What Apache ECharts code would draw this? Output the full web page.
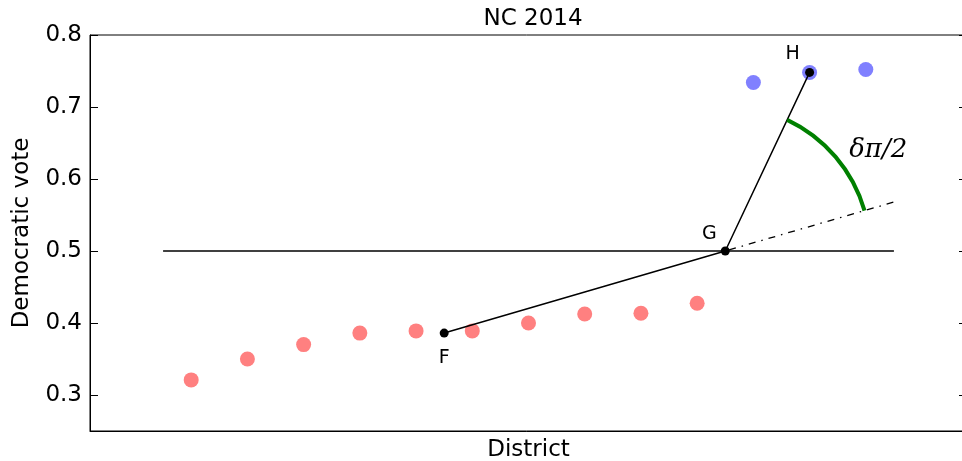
<!DOCTYPE html>
<html>
<head>
<meta charset="utf-8">
<script src="https://cdn.jsdelivr.net/npm/echarts@6/dist/echarts.min.js"></script>
<style>
html,body{margin:0;padding:0;background:#fff;}
#chart{width:962px;height:461px;}
</style>
</head>
<body>
<div id="chart"></div>
<script>
// ---- data ----
const titleText = 'NC 2014';
const xName = 'District';
const yName = 'Democratic vote';
const yTicks = [0.3, 0.4, 0.5, 0.6, 0.7, 0.8];
const districts = [1, 2, 3, 4, 5, 6, 7, 8, 9, 10, 11, 12, 13];
const demVote = [0.321, 0.350, 0.370, 0.386, 0.389, 0.389, 0.400, 0.4125, 0.4135, 0.4275, 0.734, 0.748, 0.752];
const pointF = [5.5, 0.386];
const pointG = [10.5, 0.5];
const pointH = [12, 0.748];
const pointNames = ['F', 'G', 'H'];
const halfLine = [[0.5, 0.5], [13.5, 0.5]];
const extEnd = [13.5, 0.568];
const angleLabel = 'δπ/2';
const angleLabelPos = [13.22, 0.64];

const redPts = [], bluePts = [];
districts.forEach((d, i) => {
  (demVote[i] < 0.5 ? redPts : bluePts).push([d, demVote[i]]);
});

const font = 'DejaVu Sans';
const chart = echarts.init(document.getElementById('chart'), null, {renderer: 'canvas'});
const labelOffsets = [[0, 25], [-16, -17], [-17, -18]];
const fgh = [pointF, pointG, pointH].map((p, i) => ({
  value: p,
  label: {
    show: true,
    formatter: pointNames[i],
    position: 'inside',
    offset: labelOffsets[i],
    align: 'center',
    verticalAlign: 'middle',
    fontSize: 19,
    fontFamily: font,
    color: '#000'
  }
}));

chart.setOption({
  animation: false,
  backgroundColor: '#fff',
  title: {
    text: titleText,
    left: 528,
    top: 3,
    textAlign: 'center',
    textStyle: {fontFamily: font, fontSize: 23, fontWeight: 'normal', color: '#000'}
  },
  grid: {
    left: 90, top: 35, width: 877, height: 396,
    outerBoundsMode: 'none', containLabel: false,
    show: true, borderColor: '#000', borderWidth: 1, backgroundColor: '#fff'
  },
  xAxis: {
    type: 'value', min: -0.8, max: 14.8,
    name: xName, nameLocation: 'middle', nameGap: 8,
    nameTextStyle: {fontFamily: font, fontSize: 23, color: '#000', verticalAlign: 'top'},
    axisLine: {show: true, onZero: false, lineStyle: {color: '#000', width: 1}},
    axisTick: {show: false}, axisLabel: {show: false}, splitLine: {show: false}
  },
  yAxis: [{
    type: 'value', min: 0.25, max: 0.8,
    name: yName, nameLocation: 'middle', nameGap: 56,
    nameTextStyle: {fontFamily: font, fontSize: 23, color: '#000'},
    axisLine: {show: true, onZero: false, lineStyle: {color: '#000', width: 1}},
    axisTick: {show: true, inside: true, length: 8, customValues: yTicks, lineStyle: {color: '#000'}},
    axisLabel: {show: true, customValues: yTicks, margin: 8, fontFamily: font, fontSize: 23, color: '#000',
      formatter: v => v.toFixed(1)},
    splitLine: {show: false}
  }, {
    type: 'value', min: 0.25, max: 0.8, position: 'right',
    axisLine: {show: true, onZero: false, lineStyle: {color: '#000', width: 1}},
    axisTick: {show: true, inside: true, length: 8, customValues: yTicks, lineStyle: {color: '#000'}},
    axisLabel: {show: false}, splitLine: {show: false}
  }],
  series: [
    {type: 'scatter', data: redPts, symbolSize: 15, itemStyle: {color: '#ff8080', opacity: 1}, z: 2, silent: true},
    {type: 'scatter', data: bluePts, symbolSize: 15, itemStyle: {color: '#8080ff', opacity: 1}, z: 2, silent: true},
    {type: 'line', data: halfLine, symbol: 'none', lineStyle: {color: '#000', width: 1.3}, z: 3, silent: true},
    {type: 'line', data: [pointG, extEnd], symbol: 'none',
      lineStyle: {color: '#000', width: 1.3, type: [7, 6, 1.5, 6], dashOffset: -4}, z: 3, silent: true},
    {type: 'line', data: fgh, symbol: 'circle', symbolSize: 9, showAllSymbol: true,
      itemStyle: {color: '#000'}, lineStyle: {color: '#000', width: 1.5}, z: 4, silent: true},
    {type: 'custom', data: [pointG], z: 5, silent: true, clip: false,
      renderItem: function (params, api) {
        const g = api.coord(pointG), h = api.coord(pointH), e = api.coord(extEnd);
        const a1 = Math.atan2(h[1] - g[1], h[0] - g[0]);
        const a2 = Math.atan2(e[1] - g[1], e[0] - g[0]);
        const tp = api.coord(angleLabelPos);
        return {
          type: 'group',
          children: [{
            type: 'arc',
            shape: {cx: g[0], cy: g[1], r: 145, startAngle: a1, endAngle: a2, clockwise: true},
            style: {stroke: '#008000', lineWidth: 4, fill: null}
          }, {
            type: 'text',
            x: tp[0], y: tp[1],
            style: {text: angleLabel, fontFamily: 'DejaVu Serif', fontStyle: 'italic', fontSize: 26,
              fill: '#000', align: 'center', verticalAlign: 'middle'}
          }]
        };
      }
    }
  ]
});
</script>
</body>
</html>
